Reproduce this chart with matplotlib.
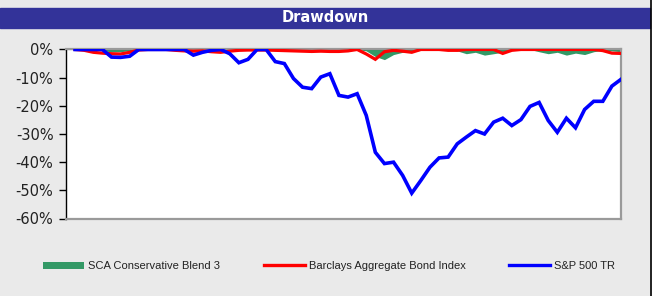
import numpy as np
import matplotlib
matplotlib.use('Agg')
import matplotlib.pyplot as plt
from matplotlib.patches import Rectangle, Patch
from matplotlib.lines import Line2D
from matplotlib.ticker import FuncFormatter

# Drawdown in %, monthly points
sca = [0, 0, 0, -0.5, -0.8, -0.8, -0.4, 0, 0, 0,
       0, 0, -0.2, -0.3, -0.2, -0.2, -0.3, -0.2, 0, 0,
       0, 0, 0, 0, 0, 0, 0, 0, 0, 0,
       0, 0, -0.5, -2.5, -3.6, -1.8, -1.0, -0.8, -0.3, 0,
       0, 0, -0.5, -1.5, -1.0, -2.0, -1.5, -1.0, -0.3, 0,
       0, -0.8, -1.5, -1.0, -2.0, -1.3, -1.8, -0.8, -0.3, -0.5,
       -0.8]
barclays = [0, -0.3, -1.0, -1.3, -1.5, -1.6, -1.0, -0.2, 0, 0,
            0, -0.3, -0.5, -0.6, -0.5, -0.8, -1.0, -0.6, -0.3, -0.2,
            -0.2, -0.2, -0.3, -0.4, -0.5, -0.6, -0.7, -0.6, -0.7, -0.7,
            -0.5, 0, -1.6, -3.5, -0.8, -0.3, -0.6, -1.0, 0, 0,
            0, -0.3, -0.3, 0, 0, 0, 0, -1.4, -0.3, 0,
            0, 0, 0, 0, 0, 0, 0, 0, -0.4, -1.3,
            -1.4]
sp500 = [0, 0, 0, 0, -2.7, -2.8, -2.4, 0, 0, 0,
         0, 0, 0, -2.0, -1.0, -0.3, 0, -1.5, -4.7, -3.5,
         0, 0, -4.3, -5.0, -10.3, -13.4, -13.9, -9.8, -8.6, -16.3,
         -16.9, -15.7, -23.4, -36.5, -40.5, -40.0, -44.7, -51.0, -46.5, -41.8,
         -38.5, -38.2, -33.5, -31.1, -28.8, -30.0, -25.8, -24.4, -27.0, -24.9,
         -20.2, -18.8, -25.2, -29.4, -24.4, -27.8, -21.3, -18.4, -18.4, -13.0,
         -10.6]
yticks = [0, -10, -20, -30, -40, -50, -60]

BG = '#EAEAEA'
x = np.arange(len(sp500))

fig = plt.figure(figsize=(6.52, 2.96), dpi=100, facecolor=BG)
ax = fig.add_axes([66 / 652, 1 - 218.5 / 296, 555 / 652, 170 / 296])
ax.set_facecolor('white')

ax.fill_between(x, sca, 0, color='#339966', lw=0, zorder=2)
ax.axhline(0, color='black', lw=0.8, zorder=2)
ax.plot(x, barclays, color='#FF0000', lw=2.3, zorder=3, solid_joinstyle='miter')
ax.plot(x, sp500, color='#0000FF', lw=2.6, zorder=4, solid_joinstyle='miter')

ax.set_xlim(-1, len(sp500) - 1)
ax.set_ylim(-60, 0.35)
ax.set_xticks([])
ax.set_yticks(yticks)
ax.yaxis.set_major_formatter(FuncFormatter(lambda v, p: '%d%%' % v))
ax.tick_params(axis='y', direction='out', length=5, width=1, color='black',
               labelsize=10.5, labelcolor='#222222', pad=4)
for s in ['top', 'right', 'bottom']:
    ax.spines[s].set_color('#9A9A9A')
    ax.spines[s].set_linewidth(1.6)
ax.spines['left'].set_color('black')
ax.spines['left'].set_linewidth(1.0)

# title bar
fig.patches.append(Rectangle((0, 1 - 27.5 / 296), 650 / 652, 19.5 / 296,
                             transform=fig.transFigure, color='#333399', zorder=0))
fig.text(325 / 652, 1 - 17.5 / 296, 'Drawdown', color='white', fontsize=10.5,
         fontweight='bold', ha='center', va='center')
fig.lines.append(Line2D([650.5 / 652, 650.5 / 652], [0, 1], transform=fig.transFigure,
                        color='black', lw=1.2))

handles = [Patch(facecolor='#339966', edgecolor='none'),
           Line2D([], [], color='#FF0000', lw=2.4),
           Line2D([], [], color='#0000FF', lw=2.4)]
labels = ['SCA Conservative Blend 3', 'Barclays Aggregate Bond Index', 'S&P 500 TR']
leg = fig.legend(handles, labels, loc='center', bbox_to_anchor=(329 / 652, 1 - 266 / 296),
                 ncol=3, frameon=False, handlelength=3.7, handleheight=0.6,
                 handletextpad=0.35, columnspacing=3.9,
                 prop={'family': ['Liberation Sans', 'DejaVu Sans'], 'size': 8})
for t in leg.get_texts():
    t.set_color('#222222')

fig.savefig('out.png', dpi=100, facecolor=BG)
